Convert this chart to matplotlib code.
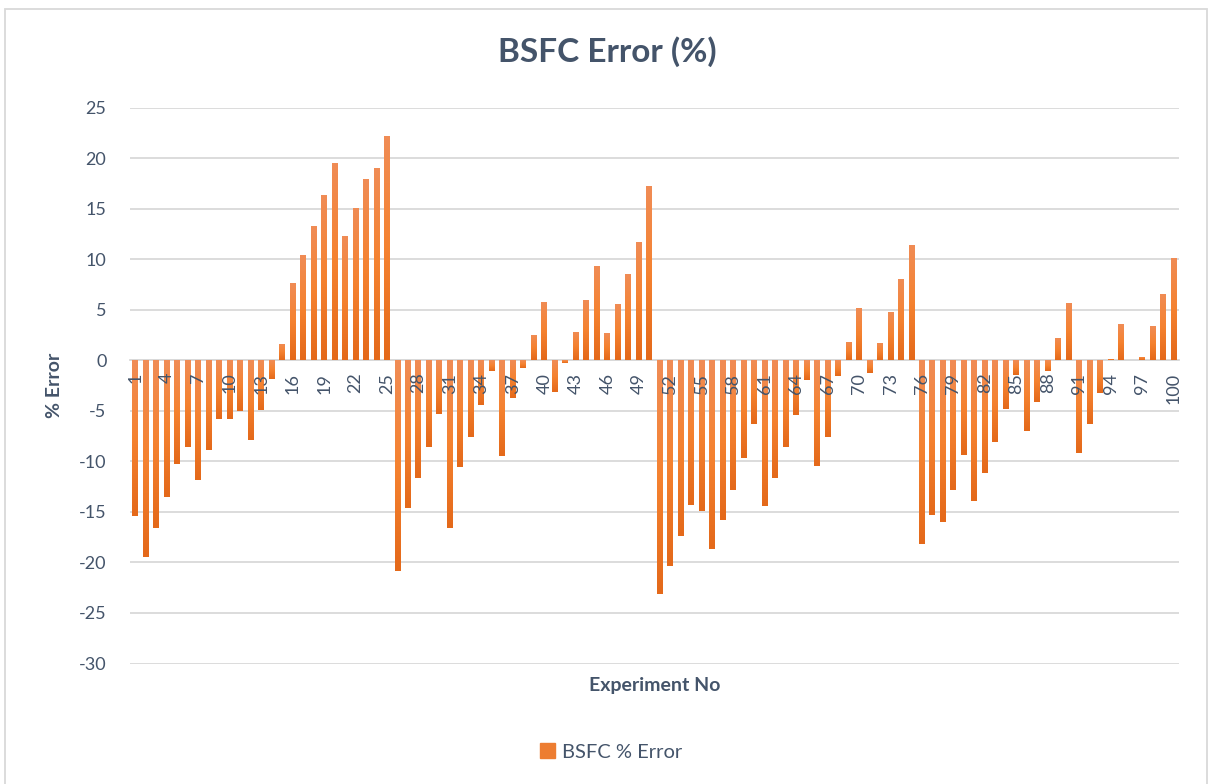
import numpy as np
import matplotlib
matplotlib.use("Agg")
import matplotlib.pyplot as plt
from matplotlib.patches import Rectangle
from matplotlib.colors import LinearSegmentedColormap

experiments = list(range(1, 101))
bsfc_error = [
    -15.4, -19.45, -16.6, -13.5, -10.25, -8.6, -11.85, -8.85, -5.8, -5.8,
    -5.0, -7.9, -4.9, -1.85, 1.6, 7.6, 10.4, 13.25, 16.3, 19.5,
    12.25, 15.05, 17.9, 19.0, 22.15, -20.85, -14.6, -11.65, -8.6, -5.3,
    -16.6, -10.55, -7.6, -4.4, -1.05, -9.45, -3.7, -0.75, 2.5, 5.75,
    -3.1, -0.25, 2.8, 5.95, 9.3, 2.65, 5.55, 8.5, 11.65, 17.2,
    -23.1, -20.35, -17.4, -14.3, -14.9, -18.65, -15.8, -12.8, -9.65, -6.3,
    -14.4, -11.65, -8.6, -5.4, -1.95, -10.45, -7.6, -1.55, 1.8, 5.15,
    -1.25, 1.7, 4.75, 8.0, 11.4, -18.15, -15.3, -16.0, -12.8, -9.35,
    -13.9, -11.15, -8.1, -4.8, -1.45, -7.0, -4.1, -1.05, 2.2, 5.65,
    -9.15, -6.3, -3.2, 0.1, 3.55, 0.0, 0.3, 3.35, 6.6, 10.1,
]
xtick_labels = [str(i) for i in range(1, 101, 3)]
yticks = list(range(-30, 30, 5))
series_name = "BSFC % Error"

text_color = "#44546A"
tick_color = "#44546A"
grid_color = "#D9D9D9"
bar_color = "#ED7D31"

plt.rcParams['font.family'] = ['Lato', 'DejaVu Sans']

fig = plt.figure(figsize=(12.08, 7.84), dpi=100)
W, H = 1208, 784
ax = fig.add_axes([130 / W, 1 - 663.5 / H, (1179 - 130) / W, (663.5 - 107.5) / H])

# gridlines (drawn behind bars)
for v in yticks:
    ax.axhline(v, color=grid_color, linewidth=1.3, zorder=0)

bars = ax.bar(experiments, bsfc_error, width=0.57, color=bar_color, zorder=3,
              label=series_name)

# subtle vertical gradient on each bar (lighter top, darker bottom)
cmap = LinearSegmentedColormap.from_list("og", ["#E4691A", "#F58230", "#F08C55"])
grad = np.linspace(0, 1, 64).reshape(-1, 1)
for b in bars:
    x0 = b.get_x()
    w = b.get_width()
    y0 = b.get_y()
    h = b.get_height()
    ylo, yhi = min(y0, y0 + h), max(y0, y0 + h)
    if yhi - ylo <= 0:
        continue
    im = ax.imshow(grad, extent=(x0, x0 + w, ylo, yhi), origin="lower",
                   cmap=cmap, aspect="auto", zorder=4, interpolation="bilinear")
    im.set_clip_path(b)

ax.set_xlim(0.5, 100.5)
ax.set_ylim(-30, 25)
ax.set_yticks(yticks)
ax.set_yticklabels([str(v) for v in yticks])
ax.grid(False)
ax.set_axisbelow(False)

for s in ["top", "right", "left"]:
    ax.spines[s].set_visible(False)
ax.spines["bottom"].set_position(("data", 0))
ax.spines["bottom"].set_color(grid_color)
ax.spines["bottom"].set_linewidth(1.3)
ax.spines["bottom"].set_zorder(1)

ax.set_xticks(range(1, 101, 3))
ax.set_xticklabels(xtick_labels, rotation=90, fontsize=13, color=tick_color)
ax.tick_params(axis="x", length=0, pad=9)
ax.tick_params(axis="y", length=0, pad=17, labelsize=13, labelcolor=tick_color)
ax.xaxis.set_zorder(6)
ax.yaxis.set_zorder(6)

fig.text(607 / W, 1 - 52 / H, "BSFC Error (%)", ha="center", va="center",
         fontsize=24, fontweight="bold", color=text_color)
fig.text(655 / W, 1 - 685 / H, "Experiment No", ha="center", va="center",
         fontsize=14, fontweight="bold", color=text_color)
fig.text(54 / W, 1 - 385 / H, "% Error", ha="center", va="center", rotation=90,
         fontsize=14, fontweight="bold", color=text_color)

leg = fig.legend(handles=[Rectangle((0, 0), 1, 1, color=bar_color)], labels=[series_name],
                 loc="center", bbox_to_anchor=(611 / W, 1 - 752 / H), frameon=False,
                 fontsize=14.5, handlelength=0.75, handleheight=0.75, handletextpad=0.35,
                 labelcolor=text_color)

# chart border
fig.patches.append(Rectangle((5 / W, -0.01), (1206.5 - 5) / W, 1 - 9 / H + 0.01,
                             transform=fig.transFigure, fill=False,
                             edgecolor=grid_color, linewidth=1.3))

fig.savefig("out.png", dpi=100, facecolor="white")
